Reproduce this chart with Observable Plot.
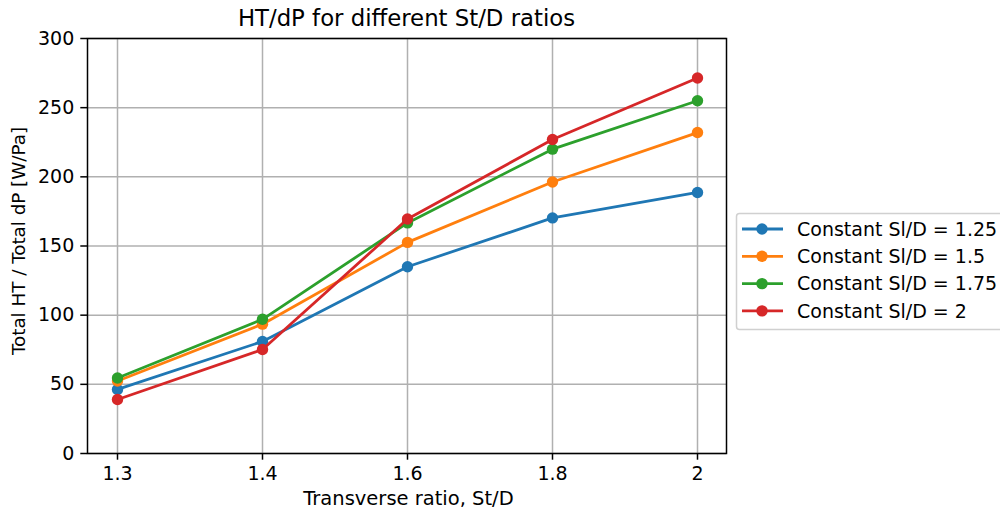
<!DOCTYPE html>
<html>
<head>
<meta charset="utf-8">
<script src="https://cdn.jsdelivr.net/npm/d3@7"></script>
<script src="https://cdn.jsdelivr.net/npm/@observablehq/plot@0.6"></script>
<style>
  html, body { margin: 0; padding: 0; background: white; }
  #chart { position: relative; width: 1000px; height: 514px; overflow: hidden; }
</style>
</head>
<body>
<div id="chart"></div>
<script>
const categories = ["1.3", "1.4", "1.6", "1.8", "2"];
const seriesNames = ["Constant Sl/D = 1.25", "Constant Sl/D = 1.5", "Constant Sl/D = 1.75", "Constant Sl/D = 2"];
const values125 = [46.3, 81, 135, 170.3, 188.7];
const values15 = [52.4, 93.5, 152.6, 196.3, 232];
const values175 = [54.6, 97, 166.7, 220, 255];
const values2 = [39, 75.2, 169.5, 227, 271.5];
const colors = ["#1f77b4", "#ff7f0e", "#2ca02c", "#d62728"];
const yTicks = [0, 50, 100, 150, 200, 250, 300];

const allValues = [values125, values15, values175, values2];
const data = [];
seriesNames.forEach((s, i) => {
  categories.forEach((c, j) => data.push({series: s, x: c, y: allValues[i][j]}));
});

const font = "DejaVu Sans, sans-serif";
const fs = 19;
const perSeries = seriesNames.flatMap((s) => {
  const d = data.filter(r => r.series === s);
  return [
    Plot.line(d, {x: "x", y: "y", stroke: "series", strokeWidth: 2.8}),
    Plot.dot(d, {x: "x", y: "y", fill: "series", r: 5.7, stroke: "none"})
  ];
});

const plot = Plot.plot({
  width: 1000,
  height: 514,
  marginLeft: 87,
  marginRight: 274,
  marginTop: 38,
  marginBottom: 61,
  style: {fontFamily: font, fontSize: fs + "px", background: "white", color: "black"},
  x: {type: "point", domain: categories, padding: 0.2, label: null},
  y: {domain: [0, 300], label: null},
  color: {domain: seriesNames, range: colors},
  marks: [
    Plot.gridX(categories, {stroke: "#b0b0b0", strokeOpacity: 1, strokeWidth: 1.5}),
    Plot.gridY(yTicks, {stroke: "#b0b0b0", strokeOpacity: 1, strokeWidth: 1.5}),
    ...perSeries,
    Plot.frame({stroke: "black", strokeWidth: 1.5}),
    Plot.axisX(categories, {tickSize: 6.7, tickPadding: 6.5, fontSize: fs, label: null, tickFormat: d => d, strokeWidth: 1.5}),
    Plot.axisY(yTicks, {tickSize: 6.7, tickPadding: 6.5, fontSize: fs, label: null, strokeWidth: 1.5})
  ]
});

const svg = d3.select(plot);
const xMid = (87 + 726) / 2;
svg.append("text").attr("x", xMid).attr("y", 26).attr("text-anchor", "middle")
  .attr("font-size", 22.8).attr("font-family", font).text("HT/dP for different St/D ratios");
svg.append("text").attr("x", xMid + 2).attr("y", 505).attr("text-anchor", "middle")
  .attr("font-size", 19.5).attr("font-family", font).text("Transverse ratio, St/D");
svg.append("text").attr("transform", `translate(25, 241) rotate(-90)`)
  .attr("text-anchor", "middle").attr("font-size", 18.3).attr("font-family", font)
  .text("Total HT / Total dP [W/Pa]");

const lg = svg.append("g");
lg.append("rect").attr("x", 736.5).attr("y", 213.5).attr("width", 280).attr("height", 116)
  .attr("rx", 3).attr("fill", "white").attr("stroke", "#d0d0d0").attr("stroke-width", 1.5);
seriesNames.forEach((s, i) => {
  const cy = 229 + i * 27.3;
  lg.append("line").attr("x1", 742).attr("x2", 783).attr("y1", cy).attr("y2", cy)
    .attr("stroke", colors[i]).attr("stroke-width", 2.8);
  lg.append("circle").attr("cx", 762).attr("cy", cy).attr("r", 5.7).attr("fill", colors[i]);
  lg.append("text").attr("x", 797).attr("y", cy).attr("dy", "0.35em").attr("text-anchor", "start")
    .attr("font-size", fs).attr("font-family", font).text(s);
});

document.getElementById("chart").appendChild(plot);
</script>
</body>
</html>
